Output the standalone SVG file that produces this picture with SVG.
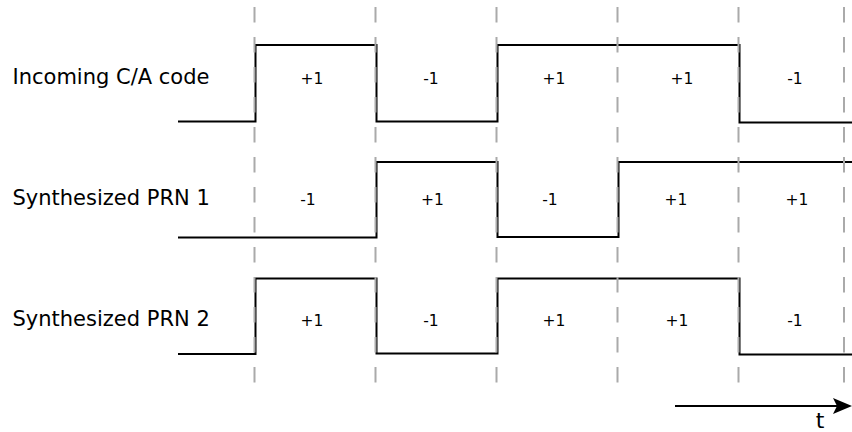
<svg xmlns="http://www.w3.org/2000/svg" width="852" height="432" viewBox="0 0 852 432">
  <style>
    .wave { fill: none; stroke: #000; stroke-width: 2; }
    .grid { stroke: #aaa; stroke-width: 2; stroke-dasharray: 15.5 14.5; }
    .label { font-family: "DejaVu Sans", sans-serif; font-size: 21px; fill: #000; }
    .val { font-family: "DejaVu Sans", sans-serif; font-size: 15.5px; fill: #000; text-anchor: middle; }
    .t { font-family: "DejaVu Sans", sans-serif; font-size: 22px; fill: #000; text-anchor: middle; }
  </style>
  <rect width="852" height="432" fill="#fff"/>

  <g id="row-ca">
    <text class="label" x="12.5" y="83.5">Incoming C/A code</text>
    <polyline class="wave" points="178,121.5 255.5,121.5 255.5,45 376.5,45 376.5,121.5 497.5,121.5 497.5,45 739.5,45 739.5,122.5 852,122.5"/>
    <text class="val" x="312" y="84">+1</text>
    <text class="val" x="431" y="84">-1</text>
    <text class="val" x="554" y="84">+1</text>
    <text class="val" x="682" y="84">+1</text>
    <text class="val" x="795" y="84">-1</text>
  </g>

  <g id="row-prn1">
    <text class="label" x="12.5" y="205">Synthesized PRN 1</text>
    <polyline class="wave" points="178,237.5 376.5,237.5 376.5,162 497.5,162 497.5,237 618.5,237 618.5,162 852,162"/>
    <text class="val" x="308" y="205">-1</text>
    <text class="val" x="432.5" y="205">+1</text>
    <text class="val" x="550" y="205">-1</text>
    <text class="val" x="676" y="205">+1</text>
    <text class="val" x="797" y="205">+1</text>
  </g>

  <g id="row-prn2">
    <text class="label" x="12.5" y="326">Synthesized PRN 2</text>
    <polyline class="wave" points="178,354 255.5,354 255.5,278.5 376.5,278.5 376.5,353.5 497.5,353.5 497.5,278.5 739.5,278.5 739.5,354.5 852,354.5"/>
    <text class="val" x="312" y="326">+1</text>
    <text class="val" x="431" y="326">-1</text>
    <text class="val" x="554" y="326">+1</text>
    <text class="val" x="677" y="326">+1</text>
    <text class="val" x="795" y="326">-1</text>
  </g>

  <g id="connectors">
    <line class="grid" x1="254.5" y1="7" x2="254.5" y2="386"/>
    <line class="grid" x1="375.5" y1="7" x2="375.5" y2="386"/>
    <line class="grid" x1="496.5" y1="7" x2="496.5" y2="386"/>
    <line class="grid" x1="617.5" y1="7" x2="617.5" y2="386"/>
    <line class="grid" x1="738.5" y1="7" x2="738.5" y2="386"/>
    <line class="grid" x1="844" y1="7" x2="844" y2="386"/>
  </g>

  <g id="time-axis">
    <line x1="675" y1="406" x2="838" y2="406" stroke="#000" stroke-width="2"/>
    <polygon points="852,406 833,398 837,406 833,414" fill="#000"/>
    <text class="t" x="820" y="428">t</text>
  </g>
</svg>
